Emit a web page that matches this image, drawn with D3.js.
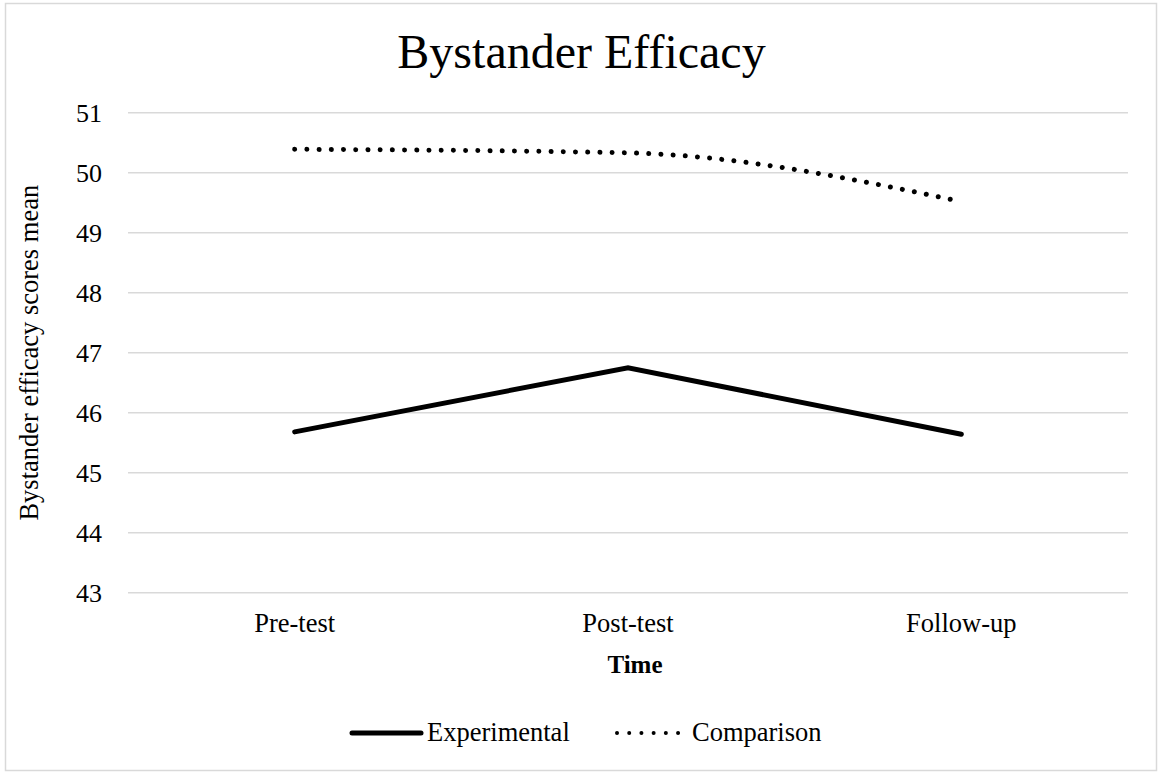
<!DOCTYPE html>
<html>
<head>
<meta charset="utf-8">
<script src="https://cdn.jsdelivr.net/npm/d3@7"></script>
<style>
  body { margin: 0; background: #fff; }
  text { font-family: "Liberation Serif", "Times New Roman", serif; fill: #000; }
</style>
</head>
<body>
<div id="chart"></div>
<script>
// chart data
let times = ["Pre-test", "Post-test", "Follow-up"];
let experimental = [45.68, 46.75, 45.64];
let comparison = [50.39, 50.33, 49.52];
let yTicks = [43, 44, 45, 46, 47, 48, 49, 50, 51];

let fullWidth = 1160;
let fullHeight = 772;

let svg = d3.select("#chart")
  .append("svg")
  .attr("width", fullWidth)
  .attr("height", fullHeight);

// outer chart border
svg.append("rect")
  .attr("x", 5.5)
  .attr("y", 3.5)
  .attr("width", 1151)
  .attr("height", 767)
  .attr("fill", "white")
  .attr("stroke", "#d9d9d9")
  .attr("stroke-width", 1.5);

let plotLeft = 128, plotRight = 1128, plotTop = 112.7, plotBottom = 592.7;

let xScale = d3.scaleBand()
  .domain(times)
  .range([plotLeft, plotRight]);

let yScale = d3.scaleLinear()
  .domain([43, 51])
  .range([plotBottom, plotTop]);

// gridlines
svg.append("g")
  .selectAll("line")
  .data(yTicks)
  .enter()
  .append("line")
  .attr("x1", plotLeft)
  .attr("x2", plotRight)
  .attr("y1", function(d) { return yScale(d); })
  .attr("y2", function(d) { return yScale(d); })
  .attr("stroke", "#d9d9d9")
  .attr("stroke-width", 1.4);

// y axis (labels only)
let yAxis = svg.append("g")
  .attr("transform", "translate(" + (plotLeft - 26) + ",0)")
  .call(d3.axisLeft(yScale).tickValues(yTicks).tickSize(0).tickPadding(0));
yAxis.select(".domain").remove();
yAxis.selectAll("text")
  .style("font-family", "'Liberation Serif', serif")
  .style("font-size", "26px")
  .attr("dy", "0.33em");

// x axis (labels only)
let xAxis = svg.append("g")
  .attr("transform", "translate(0," + plotBottom + ")")
  .call(d3.axisBottom(xScale).tickSize(0).tickPadding(0));
xAxis.select(".domain").remove();
xAxis.selectAll("text")
  .style("font-family", "'Liberation Serif', serif")
  .style("font-size", "26.5px")
  .attr("y", 39)
  .attr("dy", 0);

// title
svg.append("text")
  .attr("x", 581.5)
  .attr("y", 68)
  .attr("text-anchor", "middle")
  .style("font-size", "48px")
  .text("Bystander Efficacy");

// axis titles
svg.append("text")
  .attr("x", 635)
  .attr("y", 673)
  .attr("text-anchor", "middle")
  .style("font-size", "25px")
  .style("font-weight", "bold")
  .text("Time");

svg.append("text")
  .attr("transform", "translate(38," + ((plotTop + plotBottom) / 2) + ") rotate(-90)")
  .attr("text-anchor", "middle")
  .style("font-size", "26.5px")
  .text("Bystander efficacy  scores mean");

let cx = function(d, i) { return xScale(times[i]) + xScale.bandwidth() / 2; };

// experimental: straight solid line
let expLine = d3.line()
  .x(cx)
  .y(function(d) { return yScale(d); });

svg.append("path")
  .datum(experimental)
  .attr("d", expLine)
  .attr("fill", "none")
  .attr("stroke", "black")
  .attr("stroke-width", 5)
  .attr("stroke-linecap", "round")
  .attr("stroke-linejoin", "miter");

// comparison: smoothed dotted line
let compLine = d3.line()
  .x(cx)
  .y(function(d) { return yScale(d); })
  .curve(d3.curveMonotoneX);

svg.append("path")
  .datum(comparison)
  .attr("d", compLine)
  .attr("fill", "none")
  .attr("stroke", "black")
  .attr("stroke-width", 5)
  .attr("stroke-linecap", "round")
  .attr("stroke-dasharray", "0.01 12.2");

// legend
let legend = svg.append("g").attr("transform", "translate(0,733)");

legend.append("line")
  .attr("x1", 352).attr("x2", 421)
  .attr("y1", 0).attr("y2", 0)
  .attr("stroke", "black")
  .attr("stroke-width", 5)
  .attr("stroke-linecap", "round");

legend.append("text")
  .attr("x", 427)
  .attr("y", 8)
  .style("font-size", "26.5px")
  .text("Experimental");

legend.append("line")
  .attr("x1", 617).attr("x2", 680)
  .attr("y1", 0).attr("y2", 0)
  .attr("stroke", "black")
  .attr("stroke-width", 4)
  .attr("stroke-linecap", "round")
  .attr("stroke-dasharray", "0.01 12.2");

legend.append("text")
  .attr("x", 692)
  .attr("y", 8)
  .style("font-size", "26.5px")
  .text("Comparison");
</script>
</body>
</html>
